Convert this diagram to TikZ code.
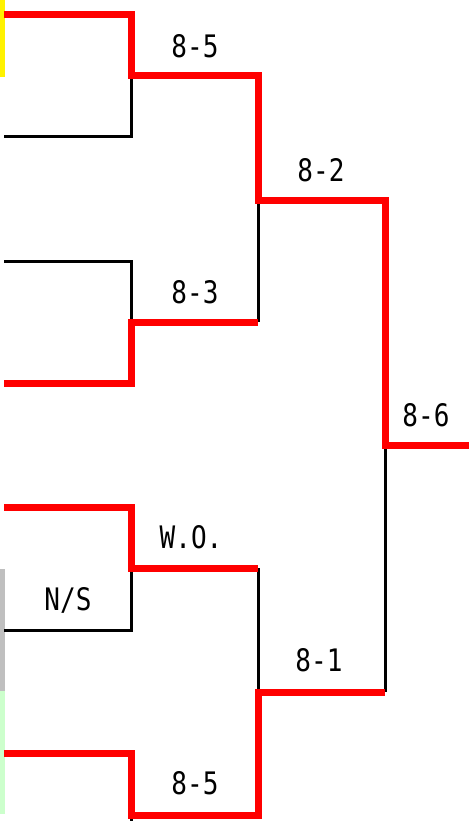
\documentclass[tikz,border=0pt]{standalone}
\usepackage{fontspec}
\newfontfamily\scorefont[FakeStretch=0.84]{DejaVu Sans Mono}
\usetikzlibrary{positioning}

\begin{document}
\begin{tikzpicture}[
        x=1pt, y=-1pt,
        win/.style={draw=red, line width=7pt},
        lose/.style={draw=black, line width=3pt},
        score/.style={font=\scorefont\fontsize{31}{31}\selectfont, inner sep=0pt}
    ]
        \useasboundingbox (0,0) rectangle (469,821);

        % colour strips at the left edge
        \fill[yellow] (0,0) rectangle (5,77);
        \fill[gray!50] (0,569) rectangle (5,691);
        \fill[green!20] (0,691) rectangle (5,814);

        % entries
        \coordinate (p1) at (4,15);
        \coordinate (p2) at (4,137);
        \coordinate (p3) at (4,261);
        \coordinate (p4) at (4,383);
        \coordinate (p5) at (4,507);
        \coordinate (p6) at (4,630);
        \coordinate (p7) at (4,753);
        \coordinate (bottom) at (0,821);

        % match points
        \coordinate (m1) at (131,76);
        \coordinate (m2) at (131,322);
        \coordinate (m3) at (131,568);
        \coordinate (m4) at (131,815);
        \coordinate (s1) at (258,200);
        \coordinate (s2) at (258,692);
        \coordinate (fin) at (385,445);
        \coordinate (champ) at (469,445);

        % losers
        \draw[lose] (p2) -| (m1);
        \draw[lose] (p3) -| (m2);
        \draw[lose] (s1) -- (s1 |- m2);
        \draw[lose] (p6) -| (m3);
        \draw[lose] (m3 -| s2) -- (s2);
        \draw[lose] (fin) -- (fin |- s2);
        \draw[lose] (m4) -- (m4 |- bottom);

        % winners
        \draw[win] (p1) -| (m1) -| (s1) -| (fin) -- (champ);
        \draw[win] (p4) -| (m2) -- (m2 -| s1);
        \draw[win] (p5) -| (m3) -- (m3 -| s2);
        \draw[win] (p7) -| (m4) -| (s2) -- (s2 -| fin);

        % scores
        \node[score] (sc1) at (195,46) {8-5};
        \node[score] (sc2) at (195,292) {8-3};
        \node[score] (sc3) at (191,537) {W.O.};
        \node[score] (sc4) at (195,783) {8-5};
        \node[score] (sc5) at (321,170) {8-2};
        \node[score] (sc6) at (319,660) {8-1};
        \node[score] (sc7) at (426,415) {8-6};
        \node[score] (ns) at (68,600) {N/S};
    \end{tikzpicture}
\end{document}
